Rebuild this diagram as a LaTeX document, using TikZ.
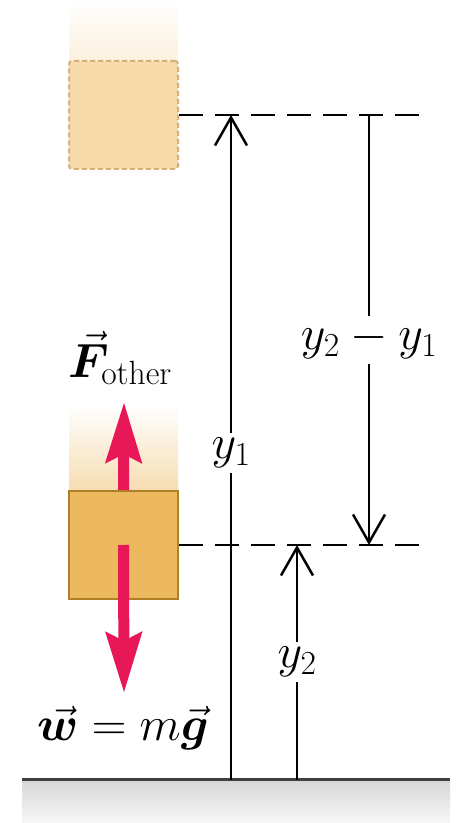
\RequirePackage{fix-cm}
\documentclass[tikz,border=0pt]{standalone}
\usepackage{amsmath}
\usepackage{bm}
\usetikzlibrary{positioning,arrows.meta}

\definecolor{blockfill}{RGB}{237,185,94}
\definecolor{blockedge}{RGB}{176,128,40}
\definecolor{ghostfill}{RGB}{248,217,168}
\definecolor{ghostedge}{RGB}{212,176,122}
\definecolor{forcered}{RGB}{232,24,88}

\begin{document}
\begin{tikzpicture}[x=1pt,y=1pt,
			>={Straight Barb[length=28pt,width=32pt]},
			every node/.style={font=\fontsize{48}{56}\selectfont},
			block/.style={
				draw=blockedge,
				fill=blockfill,
				line width=2pt,
				minimum width=109pt,
				minimum height=108pt,
				inner sep=0pt
			},
			ghost/.style={
				draw=ghostedge,
				fill=ghostfill,
				dash pattern=on 5pt off 3pt,
				line width=2pt,
				rounded corners=3pt,
				minimum width=109pt,
				minimum height=108pt,
				inner sep=0pt
			},
			levelline/.style={dash pattern=on 24pt off 12pt,line width=2.5pt},
			dimarrow/.style={->,line width=2.5pt},
			dimlabel/.style={fill=white,inner sep=5pt},
			forcearrow/.style={forcered,line width=11pt,-{Stealth[length=60pt,width=35pt,inset=8pt]}}]
			
			\useasboundingbox (0,0) rectangle (462,823);
			
			\shade[top color=gray!32,bottom color=gray!6] (22,0) rectangle (450,43);
			
			\coordinate (groundL) at (22,43);
			
			\coordinate (groundR) at (450,43);
			
			\draw[line width=3pt,black!75](groundL)--(groundR);
			
			\shade[top color=white,bottom color=ghostfill!40!white] (69,760) rectangle (178,823);
			
			\shade[top color=white,bottom color=blockfill!50!white] (69,330) rectangle (178,418);
			
			\node[ghost] (ghostbox) at (123.5,708) {};
			
			\node[block] (box) at (123.5,278) {};
			
			\coordinate (topend) at (420,708);
			
			\coordinate (bottomend) at (420,278);
			
			\draw[levelline](ghostbox.east)--(topend);
			
			\draw[levelline](box.east)--(bottomend);
			
			\coordinate (yonebase) at (231,43);
			
			\coordinate (yonetop) at (231,708);
			
			\coordinate (ytwobase) at (297,43);
			
			\coordinate (ytwotop) at (297,278);
			
			\coordinate (difftop) at (369,708);
			
			\coordinate (diffbottom) at (369,278);
			
			\draw[dimarrow](yonebase)--(yonetop);
			
			\draw[dimarrow](ytwobase)--(ytwotop);
			
			\draw[dimarrow](difftop)--(diffbottom);
			
			\node[dimlabel] (yonelabel) at (231,370) {$y_1$};
			
			\node[dimlabel] (ytwolabel) at (297,161) {$y_2$};
			
			\node[dimlabel] (difflabel) at (369,483) {$y_2 - y_1$};
			
			\coordinate (fup) at (124,421);
			
			\coordinate (fdown) at (124,130);
			
			\draw[forcearrow](box.north)--(fup);
			
			\draw[forcearrow](box.center)--(fdown);
			
			\node (fother) at (120,465) {$\vec{\bm{F}}_{\text{other}}$};
			
			\node (weight) at (123,95) {$\vec{\bm{w}} = m\vec{\bm{g}}$};
			
		\end{tikzpicture}
\end{document}
